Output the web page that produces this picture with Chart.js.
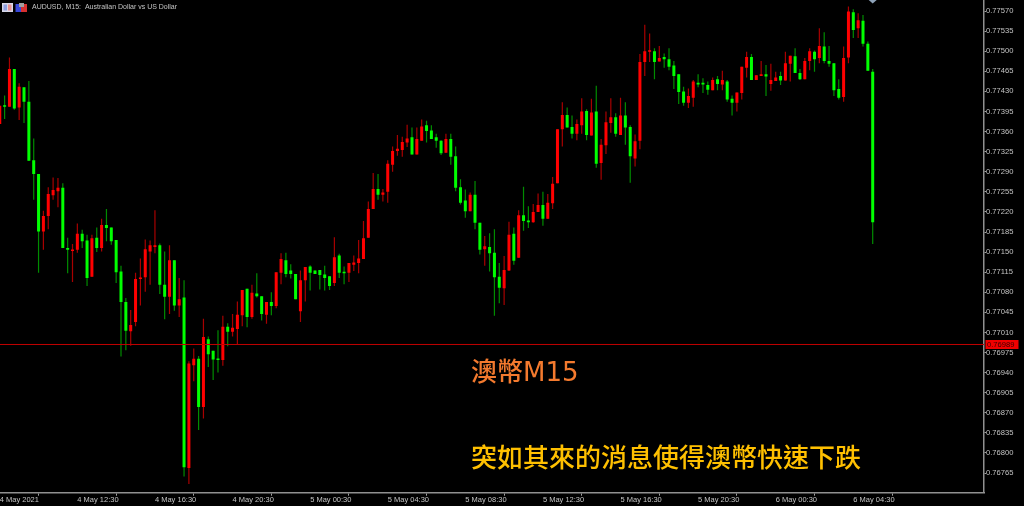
<!DOCTYPE html>
<html>
<head>
<meta charset="utf-8">
<title>AUDUSD M15</title>
<style>
  html, body { margin: 0; padding: 0; background: #000; }
  canvas { display: block; }
</style>
<script src="https://cdn.jsdelivr.net/npm/chart.js@4"></script>
</head>
<body>
<canvas id="priceChart" width="1024" height="506"></canvas>
<script>
// Candle values in points (1 point = 0.00001)
const opens = [
  77373,77405,77403,77469,77402,77437,77412,77310,77286,77186,
  77213,77249,77256,77262,77157,77152,77154,77182,77170,77107,
  77175,77157,77197,77193,77171,77116,77063,77012,77028,77103,
  77106,77151,77159,77162,77093,77072,77136,77057,77071,76774,
  76953,76964,76880,76998,76978,76964,76962,77020,77011,77016,
  77040,77086,77037,77078,77073,77041,77063,77056,77114,77136,
  77118,77112,77047,77101,77125,77118,77119,77111,77108,77096,
  77144,77115,77114,77128,77131,77138,77175,77225,77260,77250,
  77255,77302,77326,77328,77341,77350,77320,77344,77371,77362,
  77350,77344,77323,77347,77317,77263,77240,77221,77250,77201,
  77155,77159,77149,77107,77087,77118,77182,77140,77214,77205,
  77202,77220,77232,77208,77235,77270,77364,77389,77368,77356,
  77371,77396,77353,77395,77305,77336,77375,77385,77354,77388,
  77368,77313,77344,77481,77499,77500,77482,77490,77486,77475,
  77460,77430,77410,77419,77445,77445,77441,77432,77451,77442,
  77447,77417,77410,77427,77471,77490,77450,77457,77460,77443,
  77448,77457,77449,77478,77491,77462,77451,77483,77499,77488,
  77508,77483,77479,77434,77420,77489,77568,77540,77553,77513,
  77464
];
const highs = [
  77405,77423,77489,77469,77444,77437,77448,77348,77286,77222,
  77263,77280,77279,77270,77175,77164,77200,77189,77180,77180,
  77193,77208,77225,77193,77171,77126,77070,77049,77114,77139,
  77172,77170,77223,77165,77151,77162,77136,77105,77101,76960,
  76982,76969,77034,77003,76978,77014,77039,77026,77042,77064,
  77084,77086,77093,77113,77073,77063,77080,77115,77148,77149,
  77129,77112,77118,77124,77127,77118,77119,77126,77108,77176,
  77147,77125,77131,77144,77171,77204,77238,77288,77286,77260,
  77310,77334,77354,77351,77372,77367,77367,77381,77379,77371,
  77356,77345,77356,77356,77334,77277,77259,77254,77274,77201,
  77178,77183,77190,77131,77143,77203,77193,77223,77264,77230,
  77234,77252,77255,77251,77281,77364,77411,77402,77388,77381,
  77418,77399,77417,77440,77347,77395,77418,77392,77419,77411,
  77371,77355,77495,77546,77531,77505,77509,77496,77505,77483,
  77460,77438,77435,77450,77460,77453,77447,77454,77457,77466,
  77450,77423,77428,77473,77499,77495,77458,77483,77476,77478,
  77464,77464,77499,77492,77505,77469,77488,77505,77501,77540,
  77533,77509,77479,77451,77508,77578,77573,77566,77563,77517,
  77469
];
const lows = [
  77373,77382,77403,77398,77380,77375,77309,77241,77114,77154,
  77190,77241,77228,77157,77113,77098,77149,77157,77091,77107,
  77150,77151,77169,77163,77096,76968,76979,76987,77021,77057,
  77081,77093,77148,77077,77033,77042,77048,77037,76759,76746,
  76925,76840,76860,76950,76927,76940,76952,76986,77003,76990,
  77021,77019,77034,77071,77031,77025,77040,77052,77094,77106,
  77104,77068,77028,77064,77083,77112,77085,77083,77084,77091,
  77105,77094,77098,77117,77113,77138,77175,77225,77241,77238,
  77236,77290,77318,77316,77333,77320,77320,77344,77341,77347,
  77332,77319,77323,77302,77256,77233,77210,77221,77190,77146,
  77126,77116,77039,77061,77058,77117,77128,77140,77187,77192,
  77201,77220,77196,77208,77225,77270,77334,77367,77348,77345,
  77356,77345,77353,77297,77276,77321,77358,77351,77354,77337,
  77271,77299,77329,77457,77481,77451,77482,77471,77467,77434,
  77408,77405,77401,77403,77437,77427,77424,77432,77432,77432,
  77412,77388,77395,77416,77454,77450,77450,77457,77422,77431,
  77448,77441,77449,77447,77462,77450,77451,77467,77464,77479,
  77479,77473,77422,77416,77412,77479,77523,77523,77508,77466,
  77164
];
const closes = [
  77405,77403,77469,77400,77438,77412,77309,77286,77186,77213,
  77251,77258,77262,77157,77154,77154,77182,77169,77105,77174,
  77157,77197,77192,77169,77115,77063,77013,77023,77103,77105,
  77155,77162,77162,77093,77072,77136,77057,77068,76775,76956,
  76964,76880,77002,76972,76963,76962,77020,77011,77018,77041,
  77084,77037,77079,77073,77042,77063,77056,77115,77138,77112,
  77112,77068,77101,77124,77114,77112,77110,77105,77091,77141,
  77114,77113,77131,77132,77139,77174,77225,77260,77250,77254,
  77304,77326,77330,77342,77348,77320,77347,77369,77361,77347,
  77344,77322,77347,77316,77262,77236,77221,77250,77201,77154,
  77160,77148,77106,77088,77119,77180,77135,77214,77204,77202,
  77220,77232,77208,77236,77269,77364,77389,77367,77356,77373,
  77395,77354,77393,77304,77337,77376,77385,77356,77388,77367,
  77317,77343,77481,77500,77500,77481,77488,77486,77473,77457,
  77429,77410,77422,77447,77442,77442,77433,77450,77443,77450,
  77416,77410,77428,77473,77490,77450,77458,77460,77456,77450,
  77454,77449,77479,77492,77462,77451,77483,77500,77486,77509,
  77483,77478,77432,77419,77488,77569,77537,77554,77513,77466,
  77202
];

const yTickLabels = [
  "0.77570","0.77535","0.77500","0.77465","0.77430","0.77395","0.77360","0.77325",
  "0.77290","0.77255","0.77220","0.77185","0.77150","0.77115","0.77080","0.77045",
  "0.77010","0.76975","0.76940","0.76905","0.76870","0.76835","0.76800","0.76765"
];
// One label every 16 bars (4 hours of M15)
const xTickBars = [0, 16, 32, 48, 64, 80, 96, 112, 128, 144, 160, 176];
const xTickLabels = [
  "4 May 2021","4 May 12:30","4 May 16:30","4 May 20:30","5 May 00:30","5 May 04:30",
  "5 May 08:30","5 May 12:30","5 May 16:30","5 May 20:30","6 May 00:30","6 May 04:30"
];
const lastPrice = 0.76989;
const chartTitle = "AUDUSD, M15:  Australian Dollar vs US Dollar";
const noteTitle = "澳幣M15";
const noteText = "突如其來的消息使得澳幣快速下跌";

const xMin = 0.05;
const xMax = 202.95;
const toPrice = (p) => p / 100000;
const isUp = (i) => closes[i] >= opens[i];

const bodyData = opens.map((o, i) => ({ x: i, y: [toPrice(o), toPrice(closes[i])] }));
const wickData = opens.map((o, i) => ({ x: i, y: [toPrice(lows[i]), toPrice(highs[i])] }));

// Titles, price tag and the small terminal icons
const overlayPlugin = {
  id: "overlay",
  afterDraw(chart) {
    const ctx = chart.ctx;
    const yPixel = chart.scales.y.getPixelForValue(lastPrice);
    ctx.save();

    // price tag on the axis
    ctx.fillStyle = "#f00000";
    ctx.fillRect(985.5, yPixel - 4.5, 33, 9);
    ctx.fillStyle = "#3a0000";
    ctx.font = "7.6px 'Liberation Sans'";
    ctx.textAlign = "left";
    ctx.textBaseline = "middle";
    ctx.fillText(lastPrice.toFixed(5), 987, yPixel + 0.5);

    // chart name
    ctx.fillStyle = "#c4c4c4";
    ctx.font = "7px 'Liberation Sans'";
    ctx.fillText(chartTitle, 32, 7.5);

    // icons
    ctx.fillStyle = "#d8d8e8";
    ctx.fillRect(2, 3, 11, 9);
    ctx.fillStyle = "#8f9fe0";
    ctx.fillRect(3.5, 4.5, 3.5, 6);
    ctx.fillStyle = "#e89090";
    ctx.fillRect(8, 4.5, 3.5, 6);
    ctx.fillStyle = "#3848d8";
    ctx.fillRect(15.5, 4, 5.5, 8);
    ctx.fillStyle = "#d83030";
    ctx.fillRect(21, 4, 6, 8);
    ctx.fillStyle = "#a0a0a0";
    ctx.fillRect(19, 3, 5, 4);

    // marker at the top of the last bar
    const xLast = chart.scales.x.getPixelForValue(opens.length - 1);
    ctx.fillStyle = "#8ea2b8";
    ctx.beginPath();
    ctx.moveTo(xLast - 4, 0);
    ctx.lineTo(xLast + 4, 0);
    ctx.lineTo(xLast, 3.5);
    ctx.closePath();
    ctx.fill();

    // notes on the chart
    ctx.textBaseline = "alphabetic";
    ctx.font = "500 26px 'DejaVu Sans', 'Noto Sans CJK TC'";
    ctx.fillStyle = "#f47a2e";
    ctx.fillText(noteTitle, 471, 381);
    ctx.font = "500 26px 'Noto Sans CJK TC'";
    ctx.fillStyle = "#ffc000";
    ctx.fillText(noteText, 471, 467);

    ctx.restore();
  },
};

new Chart(document.getElementById("priceChart"), {
  type: "bar",
  data: {
    datasets: [
      {
        label: "body",
        data: bodyData,
        barThickness: 3,
        minBarLength: 1.5,
        inflateAmount: 0,
        backgroundColor: opens.map((o, i) => (isUp(i) ? "#ff0000" : "#00ff00")),
        order: 1,
      },
      {
        label: "wick",
        data: wickData,
        barThickness: 1.2,
        inflateAmount: 0,
        backgroundColor: opens.map((o, i) => (isUp(i) ? "#a80000" : "#008c00")),
        order: 2,
      },
      {
        label: "last",
        type: "line",
        data: [
          { x: xMin, y: lastPrice },
          { x: xMax, y: lastPrice },
        ],
        borderColor: "#c00000",
        borderWidth: 1,
        pointRadius: 0,
        order: 0,
      },
    ],
  },
  options: {
    responsive: false,
    animation: false,
    events: [],
    grouped: false,
    layout: { padding: 0 },
    plugins: { legend: { display: false }, tooltip: { enabled: false } },
    scales: {
      x: {
        type: "linear",
        min: xMin,
        max: xMax,
        offset: false,
        border: { color: "#909090", width: 1.5 },
        grid: { drawOnChartArea: false, tickLength: 3, tickColor: "#a0a0a0" },
        afterBuildTicks: (scale) => {
          scale.ticks = xTickBars.map((v) => ({ value: v }));
        },
        afterFit: (scale) => {
          scale.height = 13.3;
          scale.paddingLeft = 0;
          scale.paddingRight = 0;
        },
        ticks: {
          autoSkip: false,
          maxRotation: 0,
          minRotation: 0,
          align: "start",
          padding: 0,
          color: "#c4c4c4",
          font: { family: "'Liberation Sans'", size: 7.5 },
          callback: (v, i) => xTickLabels[i],
        },
      },
      y: {
        position: "right",
        min: 0.767308,
        max: 0.775892,
        border: { color: "#909090", width: 1.5 },
        grid: { drawOnChartArea: false, tickLength: 2, tickColor: "#a0a0a0" },
        afterBuildTicks: (scale) => {
          scale.ticks = yTickLabels.map((s) => ({ value: parseFloat(s) }));
        },
        afterFit: (scale) => {
          scale.width = 40;
          scale.paddingTop = 0;
          scale.paddingBottom = 0;
        },
        ticks: {
          autoSkip: false,
          padding: 0,
          color: "#c4c4c4",
          font: { family: "'Liberation Sans'", size: 7.6 },
          callback: (v) => v.toFixed(5),
        },
      },
    },
  },
  plugins: [overlayPlugin],
});
</script>
</body>
</html>
